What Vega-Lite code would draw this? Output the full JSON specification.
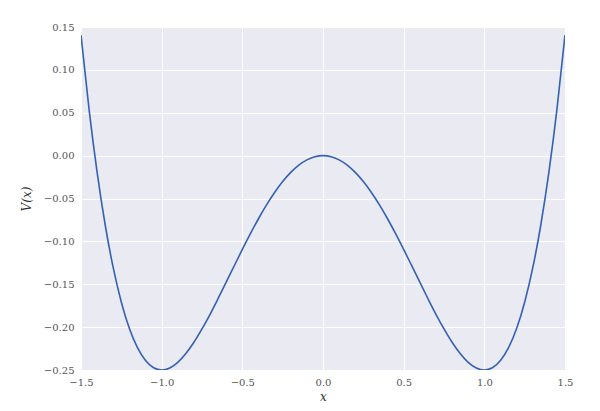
{
  "$schema": "https://vega.github.io/schema/vega-lite/v6.json",
  "width": 484,
  "height": 343,
  "autosize": {"type": "none"},
  "padding": {"left": 81, "top": 27, "right": 35, "bottom": 41},
  "background": "white",
  "config": {
    "view": {"fill": "#EAEAF2", "stroke": null},
    "axis": {
      "domain": false,
      "ticks": false,
      "grid": true,
      "gridColor": "white",
      "gridWidth": 1,
      "labelFlush": false,
      "labelOverlap": false,
      "labelFont": "DejaVu Serif",
      "labelFontSize": 10,
      "labelColor": "#555555",
      "labelPadding": 7,
      "titleFont": "DejaVu Serif",
      "titleFontSize": 12,
      "titleFontStyle": "italic",
      "titleFontWeight": "normal",
      "titleColor": "#333333"
    }
  },
  "data": {
    "values": [
      {"x": -1.5, "V": 0.1406}, {"x": -1.45, "V": 0.0539}, {"x": -1.4, "V": -0.0196},
      {"x": -1.35, "V": -0.0809}, {"x": -1.3, "V": -0.131}, {"x": -1.25, "V": -0.1709},
      {"x": -1.2, "V": -0.2016}, {"x": -1.15, "V": -0.224}, {"x": -1.1, "V": -0.239},
      {"x": -1.05, "V": -0.2474}, {"x": -1.0, "V": -0.25}, {"x": -0.95, "V": -0.2476},
      {"x": -0.9, "V": -0.241}, {"x": -0.85, "V": -0.2307}, {"x": -0.8, "V": -0.2176},
      {"x": -0.75, "V": -0.2021}, {"x": -0.7, "V": -0.185}, {"x": -0.65, "V": -0.1666},
      {"x": -0.6, "V": -0.1476}, {"x": -0.55, "V": -0.1284}, {"x": -0.5, "V": -0.1094},
      {"x": -0.45, "V": -0.091}, {"x": -0.4, "V": -0.0736}, {"x": -0.35, "V": -0.0575},
      {"x": -0.3, "V": -0.043}, {"x": -0.25, "V": -0.0303}, {"x": -0.2, "V": -0.0196},
      {"x": -0.15, "V": -0.0111}, {"x": -0.1, "V": -0.005}, {"x": -0.05, "V": -0.0012},
      {"x": 0.0, "V": 0.0},
      {"x": 0.05, "V": -0.0012}, {"x": 0.1, "V": -0.005}, {"x": 0.15, "V": -0.0111},
      {"x": 0.2, "V": -0.0196}, {"x": 0.25, "V": -0.0303}, {"x": 0.3, "V": -0.043},
      {"x": 0.35, "V": -0.0575}, {"x": 0.4, "V": -0.0736}, {"x": 0.45, "V": -0.091},
      {"x": 0.5, "V": -0.1094}, {"x": 0.55, "V": -0.1284}, {"x": 0.6, "V": -0.1476},
      {"x": 0.65, "V": -0.1666}, {"x": 0.7, "V": -0.185}, {"x": 0.75, "V": -0.2021},
      {"x": 0.8, "V": -0.2176}, {"x": 0.85, "V": -0.2307}, {"x": 0.9, "V": -0.241},
      {"x": 0.95, "V": -0.2476}, {"x": 1.0, "V": -0.25}, {"x": 1.05, "V": -0.2474},
      {"x": 1.1, "V": -0.239}, {"x": 1.15, "V": -0.224}, {"x": 1.2, "V": -0.2016},
      {"x": 1.25, "V": -0.1709}, {"x": 1.3, "V": -0.131}, {"x": 1.35, "V": -0.0809},
      {"x": 1.4, "V": -0.0196}, {"x": 1.45, "V": 0.0539}, {"x": 1.5, "V": 0.1406}
    ]
  },
  "mark": {"type": "line", "color": "#3461B3", "strokeWidth": 1.6, "interpolate": "monotone", "clip": true},
  "encoding": {
    "x": {
      "field": "x",
      "type": "quantitative",
      "scale": {"domain": [-1.5, 1.5], "nice": false, "zero": false},
      "axis": {"values": [-1.5, -1.0, -0.5, 0.0, 0.5, 1.0, 1.5], "format": ".1f", "title": "x", "titlePadding": 4}
    },
    "y": {
      "field": "V",
      "type": "quantitative",
      "scale": {"domain": [-0.25, 0.15], "nice": false, "zero": false},
      "axis": {"values": [-0.25, -0.2, -0.15, -0.1, -0.05, 0.0, 0.05, 0.1, 0.15], "format": ".2f", "title": "V(x)", "titlePadding": 10}
    }
  }
}
